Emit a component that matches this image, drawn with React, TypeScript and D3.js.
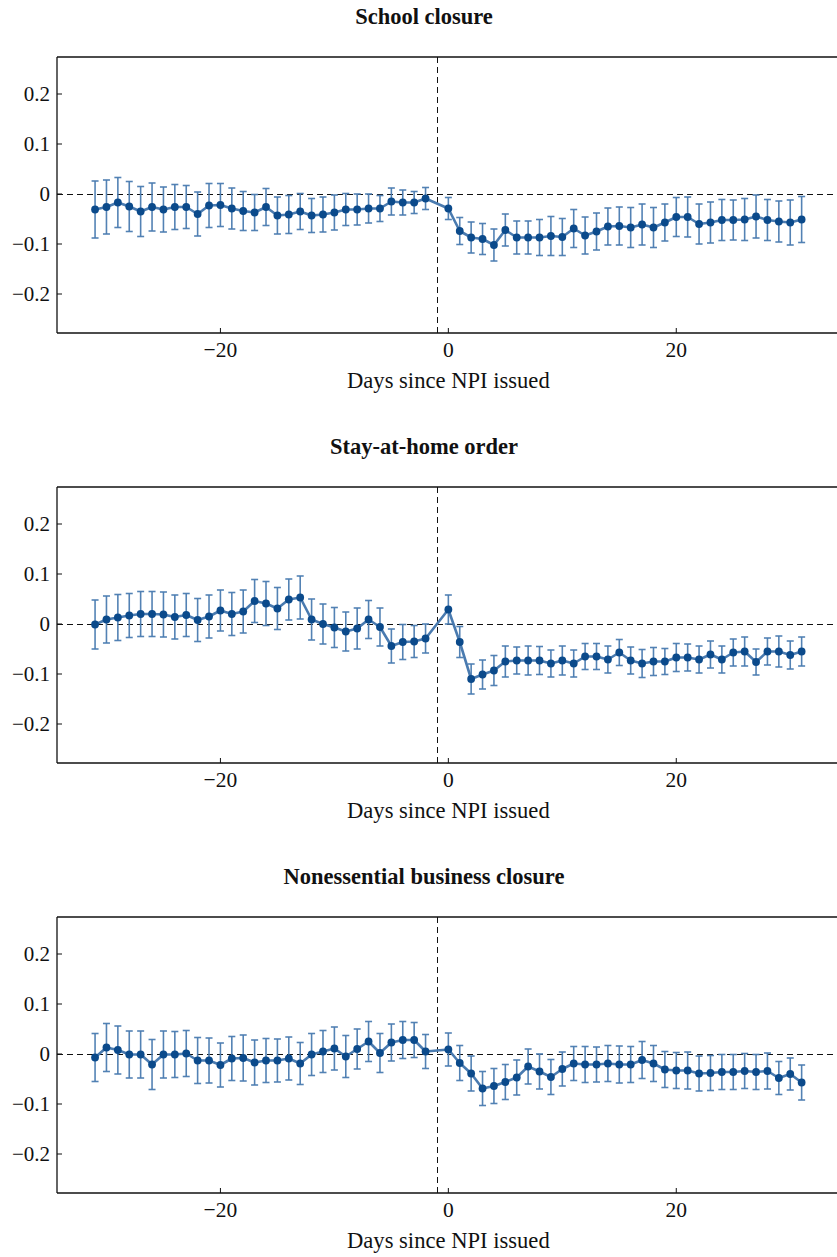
import React from "react";
import * as d3 from "d3";

const days = [
  -31, -30, -29, -28, -27, -26, -25, -24, -23, -22, -21, -20, -19, -18, -17, -16,
  -15, -14, -13, -12, -11, -10, -9, -8, -7, -6, -5, -4, -3, -2,
  0, 1, 2, 3, 4, 5, 6, 7, 8, 9, 10, 11, 12, 13, 14, 15, 16, 17, 18, 19, 20,
  21, 22, 23, 24, 25, 26, 27, 28, 29, 30, 31,
];

const panelTitles = ["School closure", "Stay-at-home order", "Nonessential business closure"];
const xTicks = [-20, 0, 20];
const yTicks = [-0.2, -0.1, 0, 0.1, 0.2];
const yTickLabels = ["\u22120.2", "\u22120.1", "0", "0.1", "0.2"];
const xTickLabels = ["\u221220", "0", "20"];
const xAxisLabel = "Days since NPI issued";
const eventDay = -1;

const schoolVals = [
  -0.031, -0.026, -0.017, -0.025, -0.035, -0.026, -0.031, -0.026, -0.026, -0.04,
  -0.023, -0.022, -0.029, -0.034, -0.037, -0.026, -0.043, -0.041, -0.035, -0.043,
  -0.041, -0.037, -0.031, -0.031, -0.029, -0.029, -0.015, -0.017, -0.017, -0.009,
  -0.029, -0.074, -0.087, -0.09, -0.102, -0.072, -0.087, -0.087, -0.087, -0.084,
  -0.086, -0.069, -0.083, -0.075, -0.065, -0.064, -0.067, -0.061, -0.067, -0.057,
  -0.046, -0.046, -0.06, -0.057, -0.052, -0.052, -0.051, -0.045, -0.052, -0.055,
  -0.057, -0.051,
];
const schoolErr = [
  0.057, 0.054, 0.05, 0.05, 0.05, 0.048, 0.045, 0.045, 0.043, 0.044, 0.044, 0.043,
  0.041, 0.039, 0.036, 0.037, 0.037, 0.038, 0.036, 0.034, 0.035, 0.035, 0.032,
  0.031, 0.029, 0.026, 0.027, 0.025, 0.022, 0.022,
  0.022, 0.027, 0.031, 0.031, 0.032, 0.032, 0.033, 0.033, 0.036, 0.039, 0.037,
  0.038, 0.037, 0.037, 0.037, 0.038, 0.04, 0.041, 0.04, 0.037, 0.039, 0.04, 0.04,
  0.041, 0.041, 0.04, 0.042, 0.043, 0.041, 0.041, 0.045, 0.046,
];

const stayVals = [
  -0.001, 0.009, 0.013, 0.017, 0.02, 0.02, 0.019, 0.014, 0.018, 0.008, 0.015,
  0.027, 0.02, 0.025, 0.046, 0.041, 0.031, 0.049, 0.053, 0.009, 0.0, -0.007,
  -0.015, -0.009, 0.009, -0.006, -0.044, -0.036, -0.035, -0.029,
  0.029, -0.036, -0.11, -0.101, -0.093, -0.075, -0.073, -0.073, -0.073, -0.079,
  -0.073, -0.079, -0.065, -0.065, -0.071, -0.057, -0.073, -0.079, -0.075, -0.075,
  -0.067, -0.067, -0.071, -0.061, -0.071, -0.057, -0.055, -0.076, -0.055, -0.055,
  -0.062, -0.055,
];
const stayErr = [
  0.049, 0.047, 0.046, 0.044, 0.045, 0.045, 0.045, 0.044, 0.043, 0.043, 0.043,
  0.041, 0.043, 0.043, 0.043, 0.044, 0.042, 0.041, 0.043, 0.041, 0.04, 0.04, 0.039,
  0.041, 0.038, 0.038, 0.034, 0.035, 0.032, 0.029,
  0.029, 0.031, 0.03, 0.029, 0.03, 0.031, 0.027, 0.029, 0.028, 0.027, 0.029,
  0.027, 0.026, 0.026, 0.027, 0.026, 0.027, 0.028, 0.028, 0.026, 0.028, 0.027,
  0.027, 0.027, 0.027, 0.027, 0.029, 0.026, 0.027, 0.031, 0.028, 0.029,
];

const businessVals = [
  -0.007, 0.013, 0.008, -0.001, -0.001, -0.021, -0.001, -0.001, 0.001, -0.013,
  -0.013, -0.022, -0.009, -0.008, -0.017, -0.013, -0.013, -0.009, -0.019, -0.001,
  0.005, 0.011, -0.005, 0.01, 0.025, 0.002, 0.023, 0.028, 0.028, 0.005,
  0.009, -0.018, -0.039, -0.069, -0.064, -0.056, -0.047, -0.025, -0.035, -0.046,
  -0.03, -0.019, -0.021, -0.021, -0.019, -0.021, -0.021, -0.012, -0.019, -0.031,
  -0.033, -0.033, -0.039, -0.038, -0.036, -0.036, -0.034, -0.036, -0.034, -0.048,
  -0.04, -0.057,
];
const businessErr = [
  0.048, 0.048, 0.048, 0.047, 0.047, 0.05, 0.047, 0.046, 0.046, 0.046, 0.045,
  0.044, 0.044, 0.046, 0.045, 0.044, 0.043, 0.043, 0.042, 0.042, 0.042, 0.043,
  0.042, 0.04, 0.04, 0.039, 0.037, 0.037, 0.035, 0.034,
  0.033, 0.035, 0.035, 0.034, 0.035, 0.035, 0.035, 0.035, 0.035, 0.035, 0.034,
  0.034, 0.036, 0.035, 0.036, 0.037, 0.036, 0.037, 0.036, 0.036, 0.036, 0.037,
  0.035, 0.035, 0.035, 0.035, 0.035, 0.035, 0.036, 0.033, 0.032, 0.035,
];

const panelVals = [schoolVals, stayVals, businessVals];
const panelErrs = [schoolErr, stayErr, businessErr];

const W = 837;
const H = 1257;
const FONT = "'Liberation Serif', 'Times New Roman', serif";
const LINE_COLOR = "#4a7bb0";
const DOT_COLOR = "#0b4a8b";

const xScale = d3.scaleLinear().domain([-34.34, 34.34]).range([57, 839.7]);

function Panel({ index }: { index: number }) {
  const top = 57 + index * 430;
  const bottom = top + 276;
  const yScale = d3.scaleLinear().domain([-0.278, 0.274]).range([bottom, top]);
  const vals = panelVals[index];
  const errs = panelErrs[index];
  const pts = days.map((d, i) => ({ d, v: vals[i], e: errs[i] }));
  const line = d3
    .line<{ d: number; v: number }>()
    .x((p) => xScale(p.d))
    .y((p) => yScale(p.v));
  const left = xScale.range()[0];
  const right = xScale.range()[1];
  const cap = 3.5;
  const zeroY = Math.round(yScale(0)) + 0.5;
  const evX = Math.round(xScale(eventDay)) + 0.5;
  return (
    <g>
      <text
        x={424}
        y={top - 33}
        textAnchor="middle"
        fontFamily={FONT}
        fontWeight="bold"
        fontSize={22.5}
        fill="#111"
      >
        {panelTitles[index]}
      </text>
      <line
        x1={left}
        x2={right}
        y1={zeroY}
        y2={zeroY}
        stroke="#111"
        strokeWidth={1}
        strokeDasharray="6,4"
      />
      <line
        x1={evX}
        x2={evX}
        y1={top}
        y2={bottom}
        stroke="#111"
        strokeWidth={1}
        strokeDasharray="6,4"
      />
      {pts.map((p, i) => {
        const x = xScale(p.d);
        const y1 = yScale(p.v - p.e);
        const y2 = yScale(p.v + p.e);
        return (
          <g key={i} stroke={LINE_COLOR} strokeWidth={1.6} strokeOpacity={0.95}>
            <line x1={x} x2={x} y1={y1} y2={y2} />
            <line x1={x - cap} x2={x + cap} y1={y1} y2={y1} />
            <line x1={x - cap} x2={x + cap} y1={y2} y2={y2} />
          </g>
        );
      })}
      <path d={line(pts) || ""} fill="none" stroke={LINE_COLOR} strokeWidth={2.6} strokeLinejoin="round" />
      {pts.map((p, i) => (
        <circle key={i} cx={xScale(p.d)} cy={yScale(p.v)} r={3.9} fill={DOT_COLOR} />
      ))}
      <g stroke="#111" strokeWidth={1.3}>
        <line x1={left} x2={left} y1={top} y2={bottom} />
        <line x1={left} x2={right} y1={top} y2={top} />
        <line x1={left} x2={right} y1={bottom} y2={bottom} />
      </g>
      {yTicks.map((t, i) => (
        <g key={"y" + i}>
          <line x1={left} x2={left + 5} y1={yScale(t)} y2={yScale(t)} stroke="#111" strokeWidth={1} />
          <text
            x={left - 7}
            y={yScale(t) + 7}
            textAnchor="end"
            fontFamily={FONT}
            fontSize={21}
            fill="#111"
          >
            {yTickLabels[i]}
          </text>
        </g>
      ))}
      {xTicks.map((t, i) => (
        <g key={"x" + i}>
          <line x1={xScale(t)} x2={xScale(t)} y1={bottom} y2={bottom - 5} stroke="#111" strokeWidth={1} />
          <text
            x={xScale(t)}
            y={bottom + 24}
            textAnchor="middle"
            fontFamily={FONT}
            fontSize={21.5}
            fill="#111"
          >
            {xTickLabels[i]}
          </text>
        </g>
      ))}
      <text
        x={xScale(0)}
        y={bottom + 55}
        textAnchor="middle"
        fontFamily={FONT}
        fontSize={22.6}
        fill="#111"
      >
        {xAxisLabel}
      </text>
    </g>
  );
}

export default function App() {
  return (
    <svg
      width={W}
      height={H}
      viewBox={`0 0 ${W} ${H}`}
      style={{ position: "absolute", left: 0, top: 0, background: "#fff" }}
    >
      <rect x={0} y={0} width={W} height={H} fill="#fff" />
      {panelTitles.map((_, i) => (
        <Panel key={i} index={i} />
      ))}
    </svg>
  );
}
